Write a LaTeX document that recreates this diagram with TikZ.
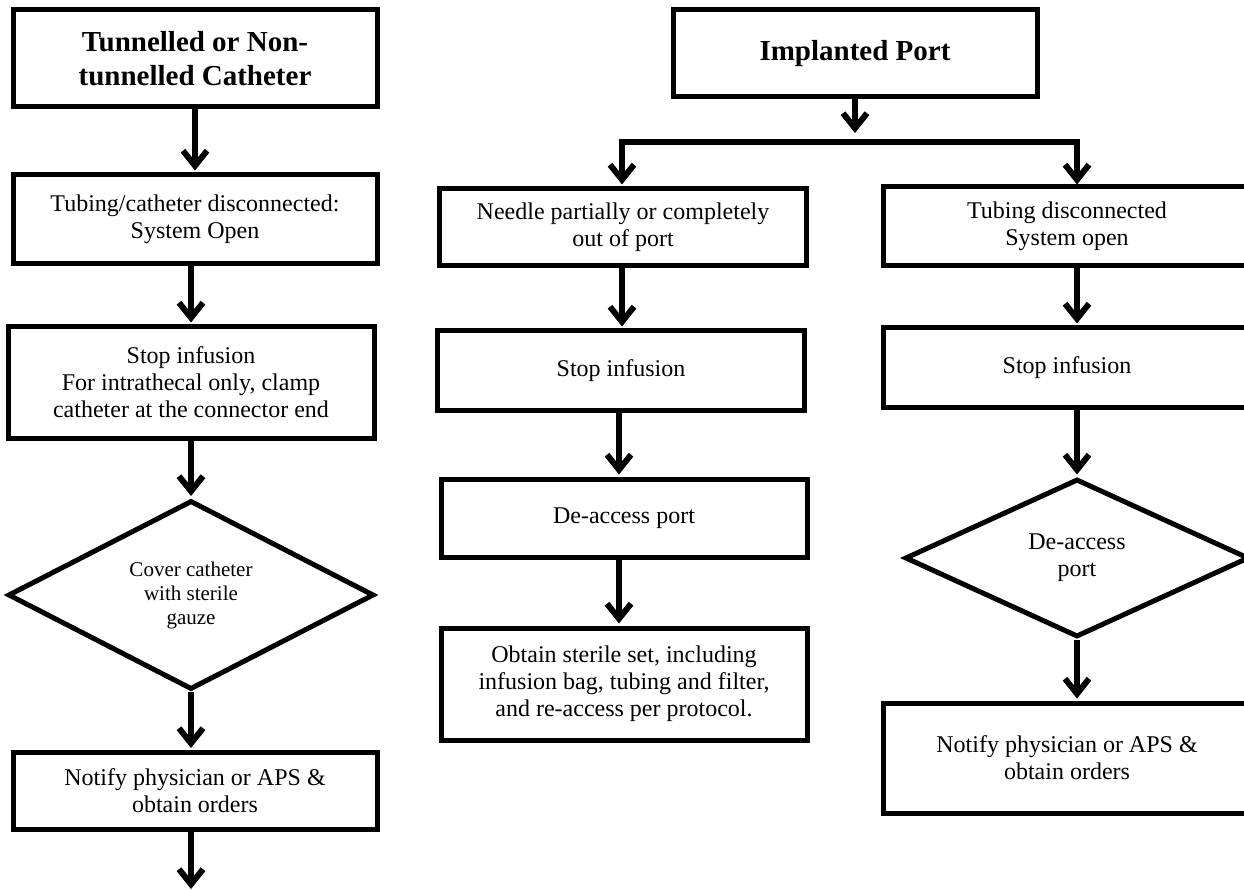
\documentclass[tikz,border=0pt]{standalone}
\usepackage{fontspec}
\setmainfont{Liberation Serif}
\usetikzlibrary{arrows.meta,shapes.geometric}
\begin{document}
\begin{tikzpicture}[x=1pt,y=-1pt,
  box/.style={draw, line width=5pt, align=center, inner sep=0pt, font=\fontsize{24}{27}\selectfont},
  titlebox/.style={box, font=\bfseries\fontsize{29}{34}\selectfont},
  dia/.style={draw, diamond, aspect=2, line width=5pt, align=center, inner sep=0pt, font=\fontsize{24}{27}\selectfont},
  arr/.style={line width=6pt, line join=miter, -{Straight Barb[length=15pt,width=24pt]}, shorten >=2pt},
  conn/.style={line width=6pt}]
\useasboundingbox (0,0) rectangle (1244,890);
\clip (0,0) rectangle (1244,890);
\fill[white] (0,0) rectangle (1244,890);

% left column
\node[titlebox, minimum width=364pt, minimum height=97pt] (t1) at (195,58.5) {Tunnelled or Non-\\tunnelled Catheter};
\node[box, minimum width=364pt, minimum height=89pt] (l2) at (195,219.5) {Tubing/catheter disconnected:\\System Open};
\node[box, minimum width=366pt, minimum height=111pt] (l3) at (191,382.5) {Stop infusion\\For intrathecal only, clamp\\catheter at the connector end};
\node[dia, minimum width=366pt, minimum height=189pt, font=\fontsize{21}{24}\selectfont] (ld) at (191,595) {Cover catheter\\with sterile\\gauze};
\node[box, minimum width=364pt, minimum height=77pt] (l5) at (195,791) {Notify physician or APS \&\\obtain orders};
\coordinate (lend) at (191,891);

\draw[arr] (t1.south) -- (t1.south |- l2.north);
\draw[arr] (l2.south -| l3) -- (l3.north);
\draw[arr] (l3.south) -- (ld.north);
\draw[arr] (ld.south) -- (ld.south |- l5.north);
\draw[arr] (l5.south -| lend) -- (lend);

% middle column
\node[titlebox, minimum width=364pt, minimum height=87pt] (ip) at (855,53.5) {Implanted Port};
\coordinate (jt) at (855,135);
\coordinate (jl) at (622,142);
\coordinate (jr) at (1077,142);
\node[box, minimum width=367pt, minimum height=77pt] (m1) at (623,227.5) {Needle partially or completely\\out of port};
\node[box, minimum width=367pt, minimum height=79pt] (m2) at (621,370.5) {Stop infusion};
\node[box, minimum width=366pt, minimum height=78pt] (m3) at (624,518) {De-access port};
\node[box, minimum width=366pt, minimum height=112pt] (m4) at (624,684) {Obtain sterile set, including\\infusion bag, tubing and filter,\\and re-access per protocol.};

\draw[arr] (ip.south -| jt) -- (jt);
\draw[arr] (jr) -- (jl) -- (m1.north -| jl);
\draw[arr] (jl) -- (jr) -- (m1.north -| jr);
\draw[arr] (m1.south -| jl) -- (m2.north -| jl);
\draw[arr] (m2.south -| 619,0) -- (m3.north -| 619,0);
\draw[arr] (m3.south -| 619,0) -- (m4.north -| 619,0);

% right column
\node[box, minimum width=368pt, minimum height=79pt] (r1) at (1067,226.5) {Tubing disconnected\\System open};
\node[box, minimum width=368pt, minimum height=79pt] (r2) at (1067,367.5) {Stop infusion};
\node[dia, minimum width=344pt, minimum height=158pt] (rd) at (1077,558) {De-access\\port};
\node[box, minimum width=368pt, minimum height=110pt] (r4) at (1067,758) {Notify physician or APS \&\\obtain orders};

\draw[arr] (r1.south -| rd) -- (r2.north -| rd);
\draw[arr] (r2.south -| rd) -- (rd.north);
\draw[arr] (rd.south) -- (r4.north -| rd);
\end{tikzpicture}
\end{document}
